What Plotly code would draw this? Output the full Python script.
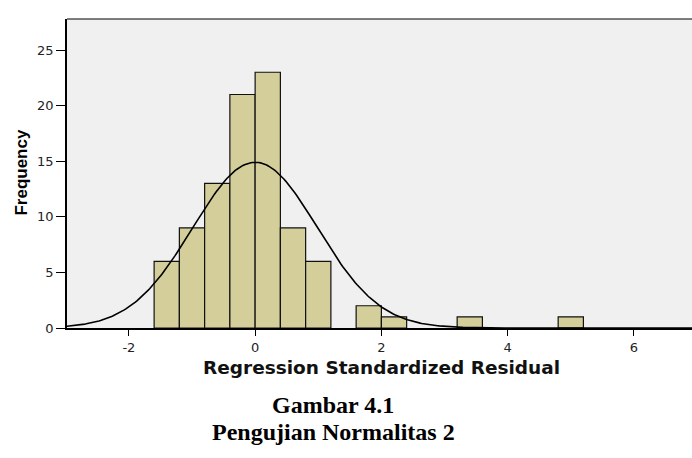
import numpy as np
import plotly.graph_objects as go

# Histogram data (bin left edges, bin width 0.4)
bin_left = [-1.6, -1.2, -0.8, -0.4, 0.0, 0.4, 0.8, 1.6, 2.0, 3.2, 4.8]
freq = [6, 9, 13, 21, 23, 9, 6, 2, 1, 1, 1]
bin_width = 0.4

# Normal curve parameters
curve_mean = 0.0
curve_sd = 0.985
n_total = sum(freq)

x_ticks = [-2, 0, 2, 4, 6]
y_ticks = [0, 5, 10, 15, 20, 25]

x_title = "Regression Standardized Residual"
y_title = "Frequency"
caption1 = "Gambar 4.1"
caption2 = "Pengujian Normalitas 2"

centers = [b + bin_width / 2 for b in bin_left]

xc = np.linspace(-3.0, 7.0, 400)
yc = n_total * bin_width / (curve_sd * np.sqrt(2 * np.pi)) * np.exp(-0.5 * ((xc - curve_mean) / curve_sd) ** 2)

fig = go.Figure()
fig.add_trace(go.Bar(
    x=centers, y=freq, width=bin_width,
    marker=dict(color="#d3ce9a", line=dict(color="#111111", width=1.2)),
    hoverinfo="skip",
))
fig.add_trace(go.Scatter(
    x=xc, y=yc, mode="lines",
    line=dict(color="#000000", width=1.6),
    hoverinfo="skip",
))

tick_font = dict(family="DejaVu Sans, Liberation Sans, Arial", size=13, color="#222222")

fig.update_layout(
    width=692, height=458,
    margin=dict(l=67, r=0, t=19, b=130),
    plot_bgcolor="#f0f0f0",
    paper_bgcolor="#ffffff",
    showlegend=False,
    xaxis=dict(
        range=[-2.98, 6.92], tickvals=x_ticks, ticktext=[str(v) for v in x_ticks],
        ticks="outside", ticklen=6, tickwidth=1.3, tickcolor="#000000",
        showline=True, linewidth=2.2, linecolor="#000000",
        showgrid=False, zeroline=False, tickfont=tick_font,
    ),
    yaxis=dict(
        range=[0, 27.79], tickvals=y_ticks, ticktext=[str(v) for v in y_ticks],
        ticks="outside", ticklen=9, tickwidth=1.3, tickcolor="#000000",
        showline=True, linewidth=1.6, linecolor="#000000",
        showgrid=False, zeroline=False, tickfont=tick_font,
    ),
    shapes=[dict(type="line", xref="paper", yref="paper", x0=0, x1=1, y0=1, y1=1,
                 line=dict(color="#000000", width=1.2))],
    annotations=[
        dict(text="<b>" + x_title + "</b>", xref="paper", yref="paper",
             x=0.503, y=-0.1285, showarrow=False, xanchor="center", yanchor="middle",
             font=dict(family="DejaVu Sans, Liberation Sans, Arial", size=18.5, color="#111111")),
        dict(text="<b>" + y_title + "</b>", xref="paper", yref="paper",
             x=-0.072, y=0.503, showarrow=False, textangle=-90, xanchor="center", yanchor="middle",
             font=dict(family="Liberation Sans, Arial", size=17, color="#000000")),
        dict(text="<b>" + caption1 + "</b>", xref="paper", yref="paper",
             x=0.4256, y=-0.2508, showarrow=False, xanchor="center", yanchor="middle",
             font=dict(family="Liberation Serif, Times New Roman, serif", size=24, color="#000000")),
        dict(text="<b>" + caption2 + "</b>", xref="paper", yref="paper",
             x=0.4256, y=-0.335, showarrow=False, xanchor="center", yanchor="middle",
             font=dict(family="Liberation Serif, Times New Roman, serif", size=24, color="#000000")),
    ],
)

fig.write_html("out.html")
